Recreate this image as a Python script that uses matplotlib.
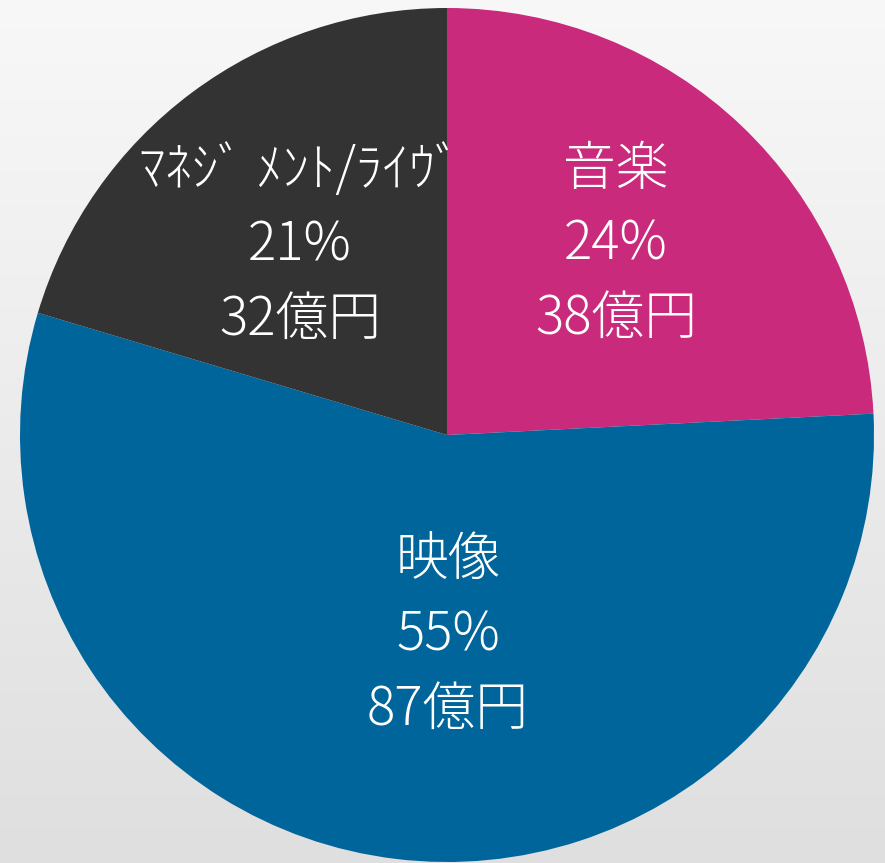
import numpy as np
import matplotlib.pyplot as plt

plt.rcParams['font.family'] = ['Noto Sans CJK JP', 'DejaVu Sans']

# data
categories = ['音楽', '映像', 'ﾏﾈｼﾞ ﾒﾝﾄ/ﾗｲｳﾞ']
amounts = [38, 87, 32]            # 億円
percents = [24, 55, 21]
colors = ['#c92a7b', '#00659b', '#333333']
# label block centres, relative to pie centre (px)
label_pos = [(169, 190), (1, -201), (-147, 189)]

W, H = 885, 863
cx, cy = 447, 435     # pie centre, px from top-left
radius = 427

fig = plt.figure(figsize=(W / 100, H / 100), dpi=100)
ax = fig.add_axes([0, 0, 1, 1])

# background gradient
grad = np.linspace(0, 1, 256).reshape(-1, 1)
top = np.array([0.972, 0.972, 0.972])
bottom = np.array([0.875, 0.875, 0.875])
img = top + (bottom - top) * grad[:, :, None]
ax.imshow(img, extent=[-cx, W - cx, -(H - cy), cy], aspect='auto', zorder=0)

ax.pie(amounts, colors=colors, startangle=90, counterclock=False,
       radius=radius, center=(0, 0), frame=True,
       wedgeprops=dict(linewidth=0, zorder=1))
ax.set_xlim(-cx, W - cx)
ax.set_ylim(-(H - cy), cy)
ax.axis('off')

for name, pct, amt, (dx, dy) in zip(categories, percents, amounts, label_pos):
    ax.text(dx, dy, f'{name}\n{pct}%\n{amt}億円', color='white', fontsize=38,
            fontweight='light', ha='center', va='center', linespacing=1.45,
            zorder=3)

fig.savefig('out.png', dpi=100)
